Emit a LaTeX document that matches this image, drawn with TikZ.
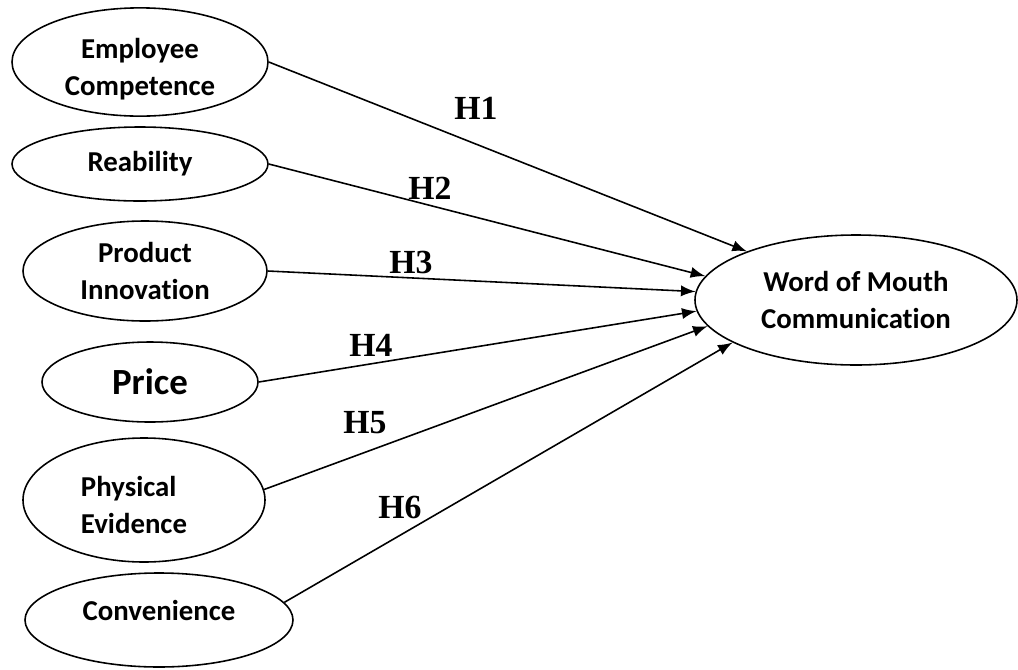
\documentclass[tikz,border=0pt]{standalone}
\usepackage{fontspec}
\setmainfont{Carlito}[Ligatures=NoCommon]
\newfontfamily\hfont{Liberation Serif}
\usepackage{tikz}
\usetikzlibrary{arrows,shapes.geometric}

\begin{document}
\begin{tikzpicture}[line width=0.45pt,
  var/.style={draw,ellipse,inner sep=0pt,align=center,font=\bfseries\fontsize{8.2}{10.5}\selectfont},
  hyp/.style={font=\hfont\bfseries\fontsize{9.6}{11}\selectfont},
  path/.style={-latex}]
\useasboundingbox (0,0) rectangle (10.18,-6.69);
\node[var,minimum width=2.56cm,minimum height=1.06cm,text height=0.72cm] (emp) at (1.40,-0.62) {Employee\\Competence};
\node[var,minimum width=2.56cm,minimum height=0.74cm] (rea) at (1.40,-1.64) {Reability};
\node[var,minimum width=2.44cm,minimum height=1.00cm] (prod) at (1.45,-2.71) {Product\\Innovation};
\node[var,minimum width=2.16cm,minimum height=0.80cm,font=\bfseries\fontsize{10.5}{12}\selectfont] (price) at (1.50,-3.82) {Price};
\node[var,minimum width=2.42cm,minimum height=1.24cm,align=left,text height=0.68cm] (phys) at (1.44,-5.00) {Physical\\Evidence\hspace*{0.2cm}};
\node[var,minimum width=2.68cm,minimum height=0.94cm,text depth=0.2cm] (conv) at (1.59,-6.20) {Convenience};
\node[var,minimum width=3.22cm,minimum height=1.30cm] (wom) at (8.56,-3.00) {Word of Mouth\\Communication};
\draw[path] (emp.east) -- (wom.156);
\draw[path] (rea.east) -- (wom.171);
\draw[path] (prod.east) -- (wom.177);
\draw[path] (price.east) -- (wom.184);
\draw[path] (phys.5) -- (wom.190);
\draw[path] (conv.8) -- (wom.199);
\node[hyp] (h1) at (4.76,-1.08) {H1};
\node[hyp] (h2) at (4.30,-1.88) {H2};
\node[hyp] (h3) at (4.11,-2.62) {H3};
\node[hyp] (h4) at (3.71,-3.45) {H4};
\node[hyp] (h5) at (3.65,-4.23) {H5};
\node[hyp] (h6) at (4.00,-5.07) {H6};
\end{tikzpicture}
\end{document}
